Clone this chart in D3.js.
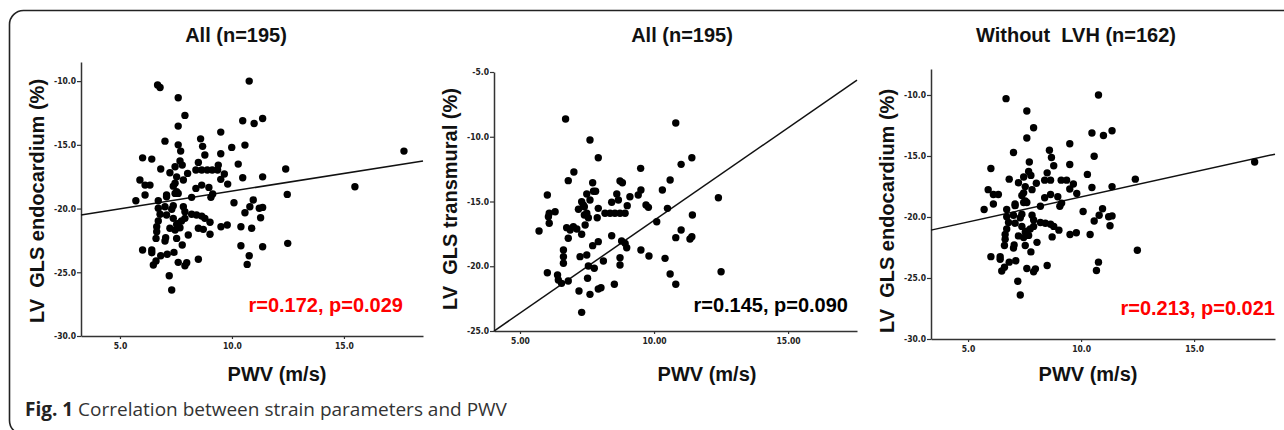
<!DOCTYPE html>
<html>
<head>
<meta charset="utf-8">
<script src="https://cdn.jsdelivr.net/npm/d3@7"></script>
<style>
  body { margin: 0; background: #fff; }
  svg { display: block; }
</style>
</head>
<body>
<script>
// ---- data ----
const titles = ["All (n=195)", "All (n=195)", "Without  LVH (n=162)"];
const yLabels = ["LV  GLS endocardium (%)", "LV  GLS transmural (%)", "LV  GLS endocardium (%)"];
const stats = ["r=0.172, p=0.029", "r=0.145, p=0.090", "r=0.213, p=0.021"];
const xTicks = [5, 10, 15];
const yTicksEndo = [-10, -15, -20, -25, -30];
const yTicksTrans = [-5, -10, -15, -20, -25];
// regression lines: [intercept, slope]
const fits = [[-21.40, 0.277], [-30.77, 1.431], [-22.45, 0.409]];

// PWV (m/s), GLS endocardium (%) - patients without LVH
const endoNoLVH = [
  [6.68,-10.3],[10.77,-10.0],[7.60,-11.31],[7.90,-12.69],[7.60,-13.53],[10.48,-13.11],[10.99,-13.32],
  [11.37,-12.93],[9.50,-14.0],[7.01,-14.71],[8.60,-14.53],[8.69,-15.12],[7.71,-15.49],[8.79,-15.80],
  [9.50,-15.70],[10.58,-15.02],[6.01,-16.02],[6.82,-16.90],[7.68,-16.27],[7.78,-16.59],[7.46,-16.72],
  [8.50,-16.38],[10.28,-16.51],[12.40,-16.90],[8.39,-16.98],[8.65,-16.98],[9.12,-16.98],[9.36,-16.98],
  [7.23,-17.19],[8.02,-17.24],[7.53,-17.51],[7.83,-17.76],[9.66,-17.29],[9.50,-17.71],[10.48,-17.58],
  [11.37,-17.51],[5.89,-17.76],[6.12,-18.16],[6.34,-18.16],[7.46,-18.02],[7.38,-18.24],[8.39,-18.42],
  [8.65,-18.16],[8.97,-18.34],[9.81,-18.08],[6.12,-18.94],[7.46,-18.81],[7.53,-18.68],[5.71,-19.39],
  [6.71,-19.39],[7.08,-19.07],[7.60,-18.81],[8.20,-19.12],[9.06,-19.12],[9.14,-18.86],[10.09,-19.55],
  [10.95,-19.33],[6.71,-19.98],[7.01,-19.86],[7.31,-20.06],[7.38,-19.78],[7.83,-19.86],[10.80,-19.86],
  [11.22,-19.98],[11.37,-19.91],[10.58,-20.33],[6.79,-20.45],[7.08,-20.51],[7.90,-20.25],[8.20,-20.45],
  [8.42,-20.51],[8.65,-20.59],[8.79,-20.77],[11.28,-20.72],[6.71,-20.98],[7.38,-20.77],[7.60,-21.16],
  [7.75,-20.98],[7.90,-20.77],[9.02,-21.08],[9.51,-21.43],[9.79,-21.29],[6.64,-21.43],[7.23,-21.55],
  [7.53,-21.24],[7.46,-21.69],[8.72,-21.63],[10.40,-21.43],[6.64,-21.82],[7.68,-21.51],[8.05,-22.08],
  [6.61,-22.34],[7.04,-22.29],[7.53,-22.34],[7.01,-22.55],[7.78,-22.86],[12.49,-22.73],[6.01,-23.25],
  [6.42,-23.25],[6.42,-23.47],[6.82,-23.70],[7.11,-23.59],[6.61,-24.12],[6.49,-24.43],[7.60,-24.22],
  [7.90,-24.49],[7.98,-24.25],[8.50,-23.98],[10.77,-23.70],[10.68,-24.38],[7.20,-25.27],[7.31,-26.39],
  [17.68,-15.49],[7.08,-18.94]
];
// patients with LVH (only in the "All" panel)
const endoLVH = [
  [6.79,-10.5],[7.60,-15.0],[9.99,-15.2],[6.42,-16.12],[9.39,-16.59],[8.90,-16.98],[12.47,-18.89],
  [8.50,-21.55],[10.88,-21.55],[9.02,-22.02],[10.40,-22.92],[11.37,-23.0],[7.41,-23.44],[15.49,-18.29]
];
// PWV (m/s), GLS transmural (%)
const transmural = [
  [6.70,-8.63],[10.81,-8.94],[7.61,-10.25],[7.92,-11.62],[11.41,-11.62],[11.01,-12.13],[9.50,-12.44],
  [7.01,-12.72],[6.80,-13.39],[7.71,-13.55],[8.73,-13.42],[8.82,-13.55],[10.60,-13.34],[10.31,-14.11],
  [9.51,-14.11],[9.41,-14.50],[6.02,-14.50],[7.49,-14.42],[7.74,-14.21],[7.82,-14.21],[8.61,-14.42],
  [9.10,-14.63],[7.30,-15.02],[7.36,-15.27],[7.61,-14.88],[8.42,-15.06],[8.67,-14.88],[9.00,-15.32],
  [9.70,-15.27],[9.79,-15.45],[10.50,-15.53],[12.40,-14.71],[6.31,-15.79],[7.92,-15.53],[7.18,-15.60],
  [11.43,-16.04],[8.17,-15.91],[8.36,-15.91],[8.54,-15.91],[8.73,-15.91],[8.92,-15.91],[7.40,-16.04],
  [7.55,-16.25],[7.88,-16.25],[7.40,-15.40],[7.49,-15.91],[6.74,-17.02],[6.87,-17.20],[6.99,-16.95],
  [7.12,-17.12],[6.80,-17.84],[7.43,-16.81],[7.30,-17.53],[10.10,-16.56],[11.01,-17.20],[10.81,-17.79],
  [11.34,-17.90],[11.41,-17.72],[8.42,-17.64],[7.92,-18.10],[7.71,-18.41],[8.79,-18.05],[8.92,-18.23],
  [8.98,-18.57],[9.51,-18.75],[9.81,-19.21],[10.41,-19.39],[6.62,-18.75],[6.62,-19.26],[6.62,-19.77],
  [7.24,-19.26],[7.49,-19.13],[8.11,-19.59],[8.73,-19.34],[8.73,-19.90],[7.55,-19.98],[7.77,-20.16],
  [6.40,-20.68],[6.55,-21.32],[6.80,-21.14],[7.52,-20.93],[7.20,-21.91],[7.61,-22.17],[7.92,-21.76],
  [8.02,-21.66],[8.52,-21.39],[10.60,-20.60],[10.81,-21.39],[12.50,-20.42],[7.30,-23.56],[5.71,-17.28],
  [6.02,-20.50],[6.09,-16.68],[6.06,-16.17],[6.43,-21.06],[6.09,-15.91]
];

// ---- layout ----
const width = 1284, height = 430;
const boldFont = "'Liberation Sans', Arial, sans-serif";
const tickFont = "'Liberation Sans Narrow', 'DejaVu Sans Condensed', 'Liberation Sans', sans-serif";

const panels = [
  { pts: endoNoLVH.concat(endoLVH), yTicks: yTicksEndo, xFmt: d => d.toFixed(1),
    xDom: [3.26, 18.53], xR: [81, 423], yDom: [-30, -8.5], yR: [336, 62],
    titleX: 236, ylabX: 44, ylabY: 201, xlabX: 277, statX: 403, statY: 312, statColor: "#ff0000" },
  { pts: transmural, yTicks: yTicksTrans, xFmt: d => d.toFixed(2),
    xDom: [4.03, 17.57], xR: [494, 857], yDom: [-25, -5], yR: [331, 72],
    titleX: 682, ylabX: 457, ylabY: 199, xlabX: 707, statX: 848, statY: 312, statColor: "#000" },
  { pts: endoNoLVH, yTicks: yTicksEndo, xFmt: d => d.toFixed(1),
    xDom: [3.36, 18.58], xR: [931, 1275], yDom: [-30, -7.87], yR: [339, 69],
    titleX: 1076, ylabX: 894, ylabY: 211, xlabX: 1088, statX: 1275, statY: 315, statColor: "#ff0000" }
];

const svg = d3.select("body").append("svg")
  .attr("width", width)
  .attr("height", height);

// outer rounded frame
svg.append("rect")
  .attr("x", 9.5).attr("y", 10.5)
  .attr("width", 1320).attr("height", 424)
  .attr("rx", 14)
  .attr("fill", "none")
  .attr("stroke", "#222")
  .attr("stroke-width", 1.6);

panels.forEach((p, i) => {
  const x = d3.scaleLinear().domain(p.xDom).range(p.xR);
  const y = d3.scaleLinear().domain(p.yDom).range(p.yR);
  const g = svg.append("g");

  // title
  g.append("text")
    .attr("x", p.titleX).attr("y", 42)
    .attr("text-anchor", "middle")
    .style("white-space", "pre")
    .attr("font-family", boldFont).attr("font-weight", "bold").attr("font-size", 20)
    .attr("fill", "#111")
    .text(titles[i]);

  // axes
  const xAxis = g.append("g")
    .attr("transform", `translate(0,${p.yR[0]})`)
    .call(d3.axisBottom(x).tickValues(xTicks).tickFormat(p.xFmt).tickSize(3).tickSizeOuter(0).tickPadding(4));
  const yAxis = g.append("g")
    .attr("transform", `translate(${p.xR[0]},0)`)
    .call(d3.axisLeft(y).tickValues(p.yTicks).tickFormat(d => d.toFixed(1)).tickSize(4).tickSizeOuter(0).tickPadding(1));

  [xAxis, yAxis].forEach(a => {
    a.select(".domain").attr("stroke", "#333").attr("stroke-width", 1.5);
    a.selectAll(".tick line").attr("stroke", "#333").attr("stroke-width", 1.2);
    a.selectAll(".tick text")
      .attr("font-family", tickFont).attr("font-weight", "bold").attr("font-size", 8.5)
      .attr("fill", "#222");
  });

  // fit line
  const [b0, b1] = fits[i];
  let xa = p.xDom[0], xb = p.xDom[1];
  // clip at top of y-range
  const yTopVal = p.yDom[1];
  if (b0 + b1 * xb > yTopVal) xb = (yTopVal - b0) / b1;
  g.append("line")
    .attr("x1", x(xa)).attr("y1", y(b0 + b1 * xa))
    .attr("x2", x(xb)).attr("y2", y(b0 + b1 * xb))
    .attr("stroke", "#111").attr("stroke-width", 1.5);

  // points
  g.append("g")
    .selectAll("circle")
    .data(p.pts)
    .join("circle")
    .attr("cx", d => x(d[0]))
    .attr("cy", d => y(d[1]))
    .attr("r", 3.7)
    .attr("fill", "#000");

  // axis titles
  g.append("text")
    .attr("transform", `translate(${p.ylabX},${p.ylabY}) rotate(-90)`)
    .attr("text-anchor", "middle")
    .style("white-space", "pre")
    .attr("font-family", boldFont).attr("font-weight", "bold").attr("font-size", 20)
    .attr("fill", "#111")
    .text(yLabels[i]);

  g.append("text")
    .attr("x", p.xlabX).attr("y", 381)
    .attr("text-anchor", "middle")
    .attr("font-family", boldFont).attr("font-weight", "bold").attr("font-size", 20)
    .attr("fill", "#111")
    .text("PWV (m/s)");

  // correlation text
  g.append("text")
    .attr("x", p.statX).attr("y", p.statY)
    .attr("text-anchor", "end")
    .attr("font-family", boldFont).attr("font-weight", "bold").attr("font-size", 20)
    .attr("fill", p.statColor)
    .text(stats[i]);
});

// caption
const cap = svg.append("text")
  .attr("x", 25).attr("y", 416)
  .attr("font-family", "'Open Sans', 'Noto Sans', sans-serif")
  .attr("font-size", 19)
  .attr("fill", "#333");
cap.append("tspan").attr("font-weight", "bold").attr("fill", "#222").text("Fig. 1");
cap.append("tspan").text(" Correlation between strain parameters and PWV");
</script>
</body>
</html>
